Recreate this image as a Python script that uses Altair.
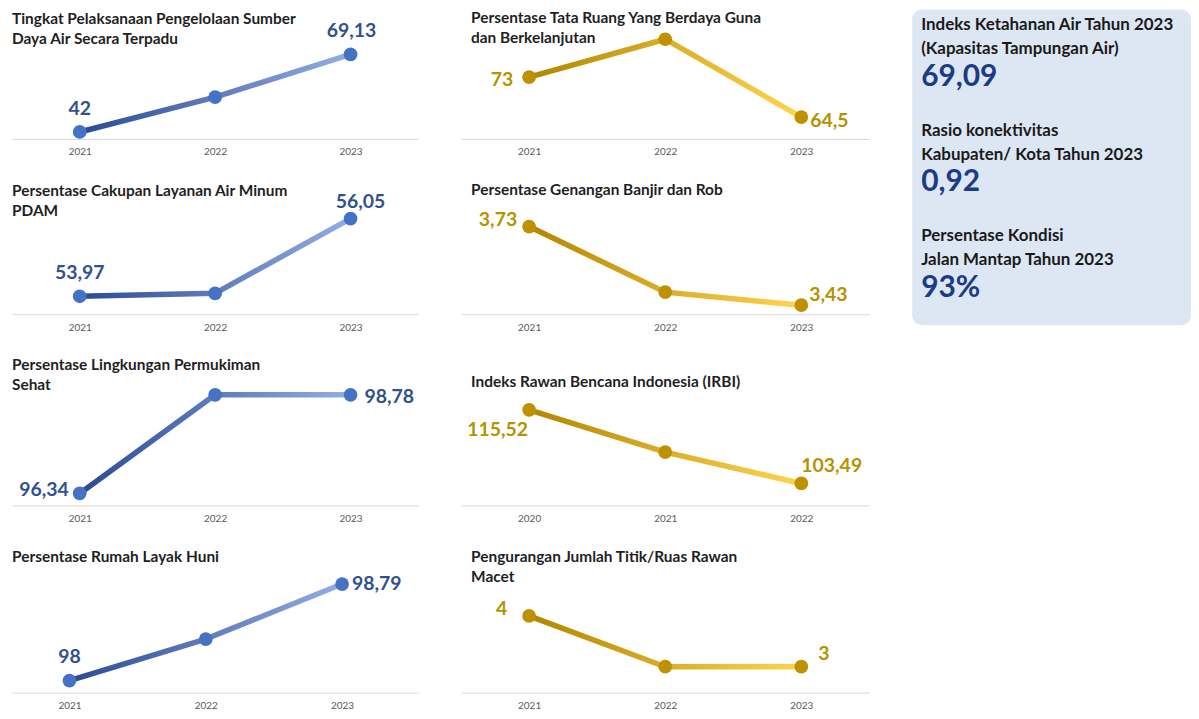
import altair as alt
import pandas as pd

# ---------------- data ----------------
years_std = ["2021", "2022", "2023"]
years_irbi = ["2020", "2021", "2022"]

left_titles = [
    ["Tingkat Pelaksanaan Pengelolaan Sumber", "Daya Air Secara Terpadu"],
    ["Persentase Cakupan Layanan Air Minum", "PDAM"],
    ["Persentase Lingkungan Permukiman", "Sehat"],
    ["Persentase Rumah Layak Huni"],
]
left_values = [
    [42, 54.2, 69.13],
    [53.97, 54.05, 56.05],
    [96.34, 98.78, 98.78],
    [98, 98.34, 98.79],
]

right_titles = [
    ["Persentase Tata Ruang Yang Berdaya Guna", "dan Berkelanjutan"],
    ["Persentase Genangan Banjir dan Rob"],
    ["Indeks Rawan Bencana Indonesia (IRBI)"],
    ["Pengurangan Jumlah Titik/Ruas Rawan", "Macet"],
]
right_values = [
    [73, 81.1, 64.5],
    [3.73, 3.48, 3.43],
    [115.52, 108.6, 103.49],
    [4, 3, 3],
]
right_years = [years_std, years_std, years_irbi, years_std]

info_labels = [
    "Indeks Ketahanan Air Tahun 2023\n(Kapasitas Tampungan Air)",
    "Rasio konektivitas\nKabupaten/ Kota Tahun 2023",
    "Persentase Kondisi\nJalan Mantap Tahun 2023",
]
info_values = ["69,09", "0,92", "93%"]

# ---------------- styling / layout ----------------
FONT = "Lato"
ROW_H = [130, 132, 148, 144]
LEFT_W, RIGHT_W = 408, 410
TITLE_FS = 15.5

BLUE = dict(dark="#2b4a93", light="#93aee3", point="#4472c4", label="#2f528f")
GOLD = dict(dark="#b38600", light="#ffd54f", point="#bf9000", label="#b39400")

# per panel: y domain, title top offset, first/last label placement (align, dx, dy)
left_cfg = [
    dict(domain=[39.57, 84.78], ttop=3, first=("center", 0, -23), last=("center", 1, -23)),
    dict(domain=[53.49, 57.01], ttop=1, first=("center", 0, -23), last=("center", 10, -17)),
    dict(domain=[96.044, 99.69], ttop=0, first=("right", -11, -3), last=("left", 14, 2)),
    dict(domain=[97.902, 99.075], ttop=1, first=("center", 0, -24), last=("left", 10, 0),
         pad=0.49, align=0.43),
]
right_cfg = [
    dict(domain=[59.825, 87.45], ttop=2, first=("right", -16, 3), last=("left", 9, 4)),
    dict(domain=[3.3958, 3.897], ttop=0, first=("right", -12, -7), last=("left", 8, -10)),
    dict(domain=[99.913, 123.97], ttop=17, first=("right", -1, 20), last=("left", 0, -18)),
    dict(domain=[2.490, 5.3135], ttop=1, first=("right", -22, -7), last=("left", 17, -13)),
]


def fmt(v):
    return f"{v:g}".replace(".", ",")


def panel(years, values, title, pal, cfg, width, height, title_dx):
    df = pd.DataFrame({
        "year": years,
        "value": values,
        "label": [fmt(v) for v in values],
        "idx": list(range(len(values))),
    })
    base = alt.Chart(df)
    x = alt.X(
        "year:O", sort=None,
        scale=alt.Scale(type="point", padding=cfg.get("pad", 0.5), align=cfg.get("align", 0.5)),
        axis=alt.Axis(title=None, labelAngle=0, ticks=False, grid=False,
                      domainColor="#d9d9d9", domainWidth=1,
                      labelColor="#595959", labelFontSize=10, labelFont=FONT,
                      labelPadding=8),
    )
    y = alt.Y("value:Q", axis=None,
              scale=alt.Scale(domain=cfg["domain"], zero=False, nice=False))
    grad = alt.LinearGradient(
        gradient="linear",
        stops=[alt.GradientStop(color=pal["dark"], offset=0),
               alt.GradientStop(color=pal["light"], offset=1)],
        x1=0, x2=1, y1=0, y2=0,
    )
    line = base.mark_line(color=grad, strokeWidth=5.5, strokeCap="round",
                          strokeJoin="round").encode(x=x, y=y)
    pts = base.mark_circle(size=190, opacity=1, color=pal["point"]).encode(x=x, y=y)

    def lab(which, idx):
        a, dx, dy = cfg[which]
        return base.transform_filter(alt.datum.idx == idx).mark_text(
            align=a, dx=dx, dy=dy, baseline="middle", font=FONT, fontSize=19.5,
            fontWeight="bold", color=pal["label"],
        ).encode(x=x, y=y, text="label:N")

    n_lines = len(title)
    title_h = TITLE_FS + 20 * (n_lines - 1)
    return alt.layer(line, pts, lab("first", 0), lab("last", len(values) - 1)).properties(
        width=width, height=height,
        title=alt.TitleParams(
            text=title, anchor="start", font=FONT, fontSize=TITLE_FS, fontWeight="bold",
            color="#1f1f1f", lineHeight=20, baseline="top", frame="group",
            offset=-(title_h + cfg["ttop"]), dx=title_dx,
        ),
    )


left_col = alt.vconcat(
    *[panel(years_std, left_values[i], left_titles[i], BLUE, left_cfg[i], LEFT_W, ROW_H[i], 0)
      for i in range(4)],
    spacing=26,
)
right_col = alt.vconcat(
    *[panel(right_years[i], right_values[i], right_titles[i], GOLD, right_cfg[i], RIGHT_W,
            ROW_H[i], 10)
      for i in range(4)],
    spacing=26,
)

info_df = pd.DataFrame({"block": [0, 1, 2], "label": info_labels, "value": info_values})
ibase = alt.Chart(info_df)
iy = alt.Y("block:O", axis=None, bandPosition=0,
           scale=alt.Scale(type="band", paddingInner=0, paddingOuter=0))
info_lab = ibase.mark_text(
    align="left", baseline="top", lineBreak="\n", lineHeight=24, font=FONT,
    fontSize=17, fontWeight="bold", color="#1a1a1a", dy=8,
).encode(x=alt.value(9), y=iy, text="label:N")
info_val = ibase.mark_text(
    align="left", baseline="top", font=FONT, fontSize=30, fontWeight="bold",
    color="#1b3c84", dy=53,
).encode(x=alt.value(9), y=iy, text="value:N")
info = alt.layer(info_lab, info_val).properties(
    width=280, height=317,
    view=alt.ViewBackground(fill="#dde7f3", cornerRadius=10, strokeWidth=0),
)

chart = alt.hconcat(left_col, right_col, info, spacing=43).properties(
    padding={"left": 4, "top": 0, "right": 0, "bottom": 0},
).configure_view(strokeWidth=0)

chart.save("out.html", embed_options={"renderer": "svg", "actions": False})
